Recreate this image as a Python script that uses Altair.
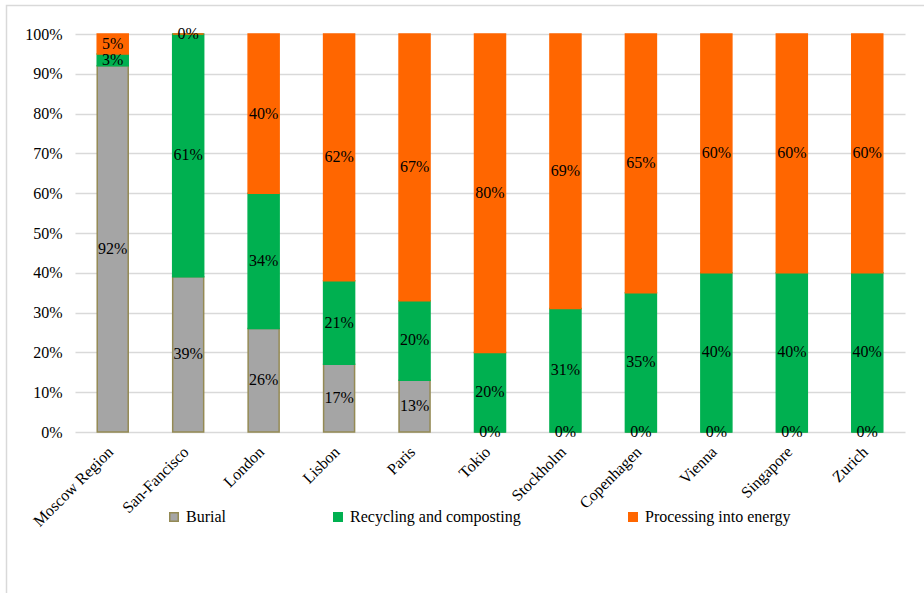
import altair as alt
import pandas as pd

cities = ["Moscow Region", "San-Fancisco", "London", "Lisbon", "Paris", "Tokio",
          "Stockholm", "Copenhagen", "Vienna", "Singapore", "Zurich"]
burial = [92, 39, 26, 17, 13, 0, 0, 0, 0, 0, 0]
recycling = [3, 61, 34, 21, 20, 20, 31, 35, 40, 40, 40]
energy = [5, 0, 40, 62, 67, 80, 69, 65, 60, 60, 60]
series = ["Burial", "Recycling and composting", "Processing into energy"]
fills = ["#a5a5a5", "#00b050", "#ff6600"]
strokes = ["#948a54", "#00b050", "#ff6600"]
y_ticks = [0, 10, 20, 30, 40, 50, 60, 70, 80, 90, 100]

rows = []
for i, c in enumerate(cities):
    for k, (s, vals) in enumerate(zip(series, [burial, recycling, energy])):
        rows.append({"city": c, "series": s, "value": vals[i], "order": k})
df = pd.DataFrame(rows)

FONT = "Liberation Serif"
FS = 16

base = alt.Chart(df).transform_stack(
    stack="value", groupby=["city"], as_=["v0", "v1"],
    sort=[alt.SortField("order", order="ascending")]
).transform_calculate(mid="(datum.v0 + datum.v1) / 2", label="datum.value + '%'")

xscale = alt.Scale(domain=cities, paddingInner=0, paddingOuter=0)
yscale = alt.Scale(domain=[0, 100], nice=False)

xaxis = alt.Axis(labelAngle=-45, labelAlign="right", labelBaseline="middle",
                 labelPadding=17, labelOffset=-2, ticks=False, domain=False,
                 grid=False, labelFont=FONT, labelFontSize=FS, labelColor="#000000")
yaxis = alt.Axis(values=y_ticks, labelExpr="datum.value + '%'", ticks=False,
                 domain=False, grid=True, gridColor="#d9d9d9", gridWidth=1.5,
                 labelFont=FONT, labelFontSize=FS, labelColor="#000000",
                 labelPadding=13, labelOverlap=False)

legend = alt.Legend(title=None, orient="none", direction="horizontal",
                    legendX=91, legendY=475, columns=3,
                    columnPadding=104, symbolType="square",
                    symbolSize=72, symbolStrokeWidth=1.5,
                    labelFont=FONT, labelFontSize=FS, labelLimit=400,
                    labelColor="#000000", labelOffset=4, padding=0)

bars = base.mark_bar(size=31, strokeWidth=1.5).encode(
    x=alt.X("city:N", sort=cities, title=None, scale=xscale, axis=xaxis),
    y=alt.Y("v0:Q", scale=yscale, title=None, axis=yaxis),
    y2="v1:Q",
    fill=alt.Color("series:N", sort=series,
                   scale=alt.Scale(domain=series, range=fills), legend=legend),
    stroke=alt.Color("series:N", sort=series,
                     scale=alt.Scale(domain=series, range=strokes), legend=legend),
    order=alt.Order("order:Q"),
)

labels = base.mark_text(font=FONT, fontSize=FS, color="#000000", baseline="middle",
                        align="center").encode(
    x=alt.X("city:N", sort=cities, title=None, scale=xscale, axis=xaxis),
    y=alt.Y("mid:Q", scale=yscale, title=None, axis=yaxis),
    text=alt.Text("label:N"),
)

border = alt.Chart(alt.Data(values=[{"a": 1}])).mark_rect(
    fill=None, stroke="#d9d9d9", strokeWidth=1.5
).encode(x=alt.value(-68.5), x2=alt.value(1000), y=alt.value(-28.5), y2=alt.value(800))

chart = alt.layer(border, bars, labels).properties(
    width=830, height=398,
    autosize=alt.AutoSizeParams(type="none"),
    padding={"left": 75, "top": 34, "right": 19, "bottom": 161},
    background="#ffffff",
).configure_view(stroke=None)

chart.save("out.html", embed_options={"renderer": "svg", "actions": False})
